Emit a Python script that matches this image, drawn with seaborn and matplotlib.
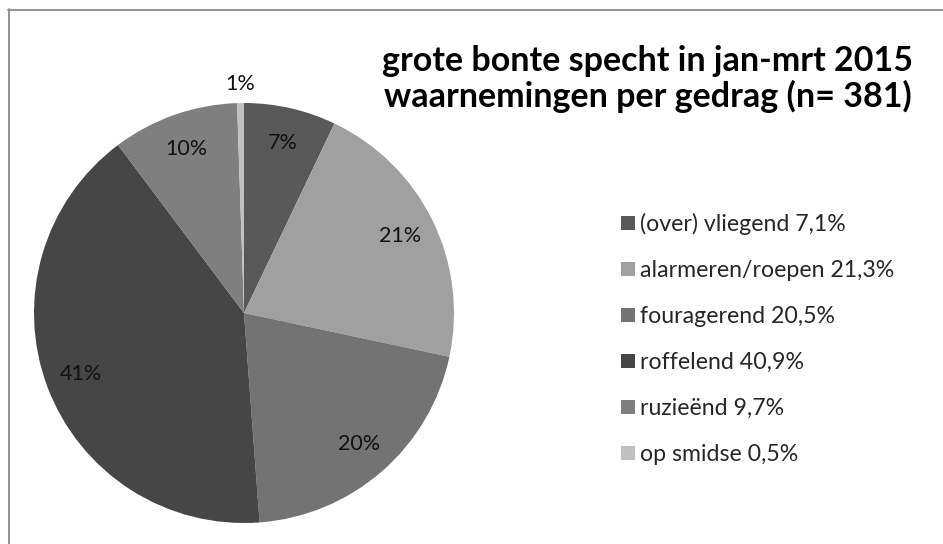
import matplotlib
matplotlib.use("Agg")
import matplotlib.pyplot as plt
import seaborn as sns
from matplotlib.lines import Line2D
from matplotlib.patches import Patch
import numpy as np

# gegevens: aantal waarnemingen per gedrag (n = 381)
gedrag = ['(over) vliegend', 'alarmeren/roepen', 'fouragerend',
          'roffelend', 'ruzieënd', 'op smidse']
aantal = [27, 81, 78, 156, 37, 2]
legenda_pct = ['7,1%', '21,3%', '20,5%', '40,9%', '9,7%', '0,5%']
kleuren = ['#595959', '#a0a0a0', '#737373', '#464646', '#7f7f7f', '#c0c0c0']
titel = 'grote bonte specht in jan-mrt 2015\nwaarnemingen per gedrag (n= 381)'

sns.set_theme(style="white")
plt.rcParams['font.family'] = ['Lato', 'DejaVu Sans']

W, H = 943, 544
fig = plt.figure(figsize=(W / 100, H / 100), dpi=100)

# taart: middelpunt (244, 313) px, straal 210 px
cx, cy, r = 244, 313, 210
ax = fig.add_axes([(cx - r) / W, (H - cy - r) / H, 2 * r / W, 2 * r / H])
wedges, teksten, autoteksten = ax.pie(
    aantal, colors=kleuren, startangle=90, counterclock=False,
    autopct=lambda p: f'{p:.0f}%', pctdistance=0.83,
    wedgeprops=dict(linewidth=0),
    textprops=dict(fontsize=15.5, color='#111111'))
ax.set_xlim(-1, 1)
ax.set_ylim(-1, 1)
ax.set_aspect('equal')
ax.axis('off')

# kleinste segment: label buiten de taart
w = wedges[-1]
hoek = np.deg2rad((w.theta1 + w.theta2) / 2)
autoteksten[-1].set_position((1.09 * np.cos(hoek), 1.09 * np.sin(hoek)))

# titel
fig.text(648 / W, 1 - 79 / H, titel, ha='center', va='center',
         fontsize=24.5, fontweight='bold', linespacing=1.08, color='black')

# legenda
handles = [Patch(facecolor=c, edgecolor='none') for c in kleuren]
labels = [f'{g} {p}' for g, p in zip(gedrag, legenda_pct)]
fig.legend(handles, labels, loc='upper left',
           bbox_to_anchor=(621 / W, 1 - 213 / H), frameon=False,
           fontsize=16.7, handlelength=0.6, handleheight=0.56,
           handletextpad=0.22, labelspacing=1.08, borderpad=0,
           borderaxespad=0)

# grijze rand van het grafiekvlak (linker- en bovenkant)
fig.add_artist(Line2D([8.5 / W, 8.5 / W], [0, 1 - 9 / H],
                      color='#888888', lw=1.3, transform=fig.transFigure))
fig.add_artist(Line2D([8 / W, 1], [1 - 9.5 / H, 1 - 9.5 / H],
                      color='#888888', lw=1.3, transform=fig.transFigure))

fig.savefig('out.png', dpi=100, facecolor='white')
